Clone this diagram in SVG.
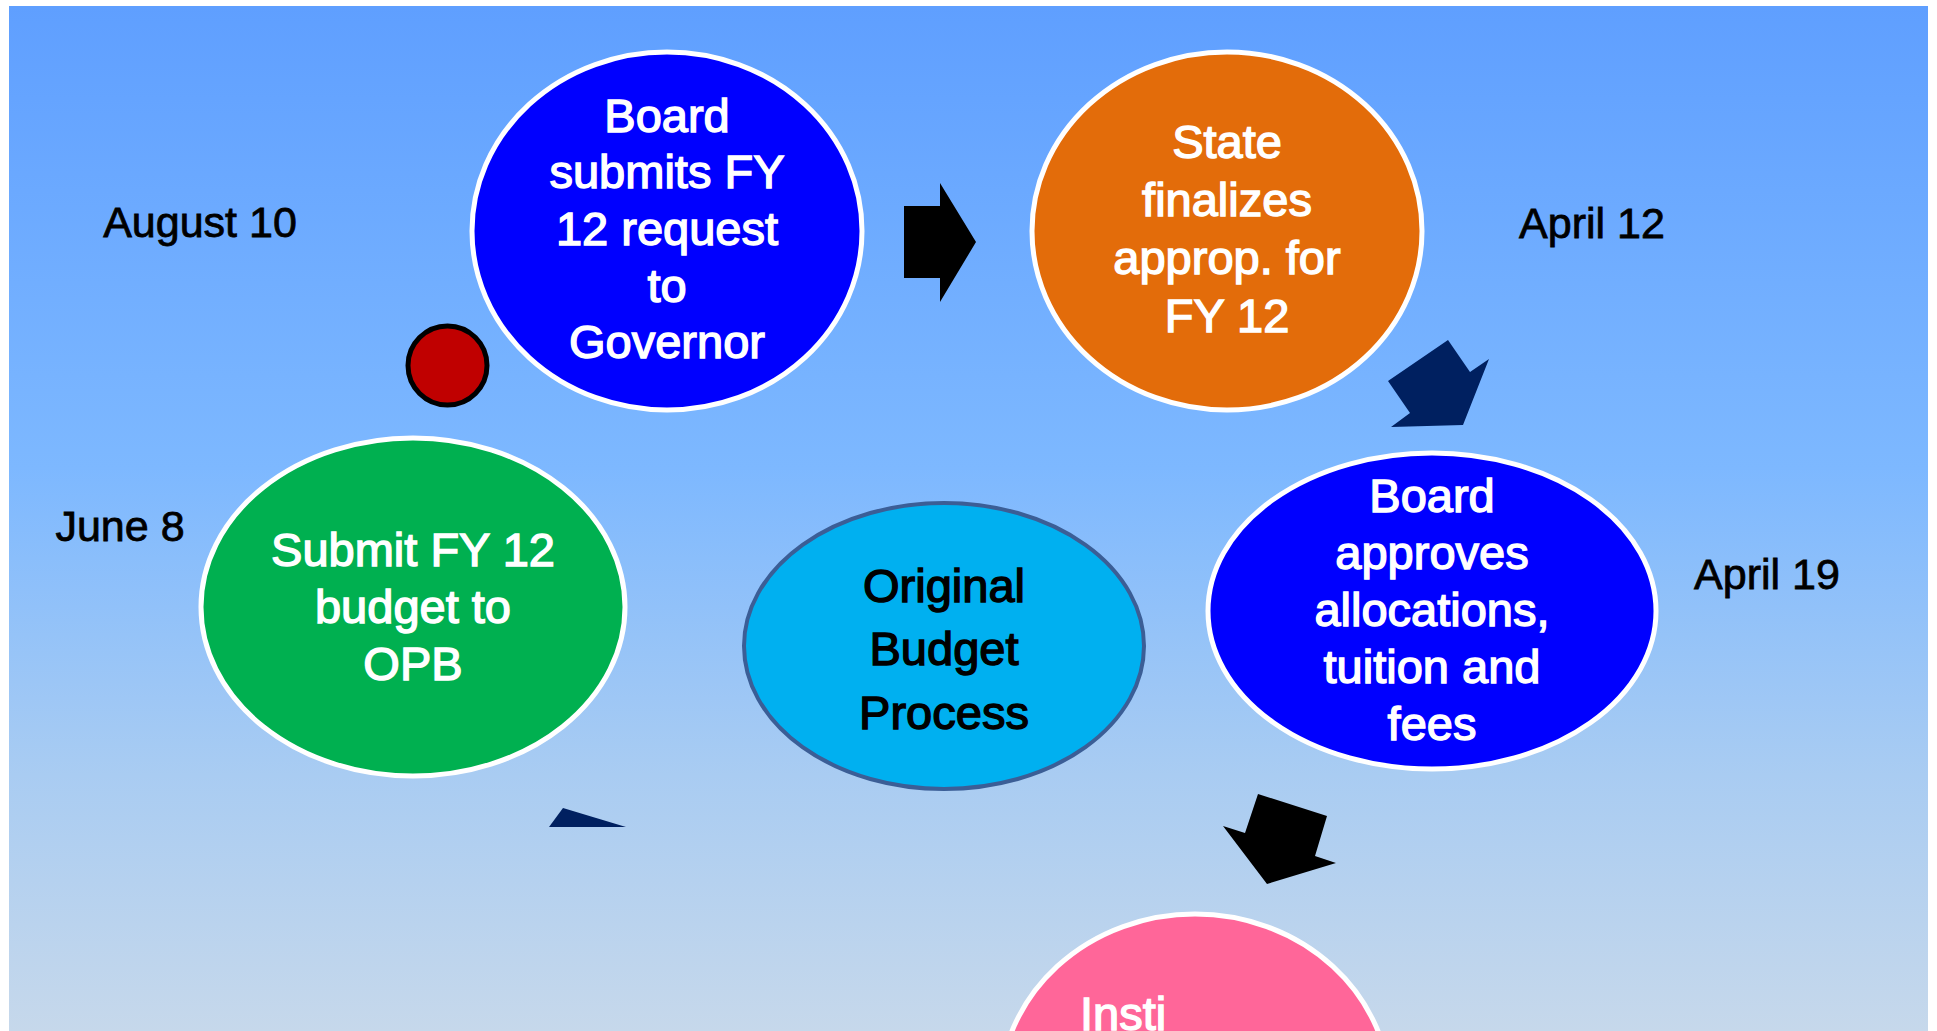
<svg xmlns="http://www.w3.org/2000/svg" width="1937" height="1031" viewBox="0 0 1937 1031">
<defs>
<linearGradient id="bg" x1="0" y1="0" x2="0" y2="1">
<stop offset="0" stop-color="#5F9FFF"/>
<stop offset="0.45" stop-color="#7DB8FF"/>
<stop offset="0.75" stop-color="#A9CCF2"/>
<stop offset="1" stop-color="#C6D8EB"/>
</linearGradient>
<style>
.node { stroke: #FFFFFF; stroke-width: 5; }
.nt { font-family: "Liberation Sans", Arial, sans-serif; font-size: 47px; fill: #FFFFFF; stroke: #FFFFFF; stroke-width: 1.4; text-anchor: middle; }
.dt { font-family: "Liberation Sans", Arial, sans-serif; font-size: 43px; fill: #000000; stroke: #000000; stroke-width: 0.8; text-anchor: middle; }
</style>
</defs>
<rect x="0" y="0" width="1937" height="1031" fill="#FFFFFF"/>
<rect x="9" y="6" width="1919" height="1025" fill="url(#bg)"/>

<g id="connectors">
<polygon points="904,206 940,206 940,183 976,242 940,302 940,278 904,278" fill="#000000"/>
<polygon points="1448,340 1470,372 1489,359 1463,425 1391,427 1410,413 1388,381" fill="#002060"/>
<polygon points="1258,794 1327,816 1315,856 1336,863 1267,884 1223,826 1245,833" fill="#000000"/>
<polygon points="563,808 626,827 549,827" fill="#002060"/>
</g>

<g id="dot">
<circle cx="447.5" cy="365.5" r="39.5" fill="#C00000" stroke="#000000" stroke-width="5"/>
</g>

<g id="node-submit">
<ellipse class="node" cx="667" cy="231" rx="195" ry="179" fill="#0000FF"/>
<text class="nt" x="667" y="131.7">Board</text>
<text class="nt" x="667" y="188.3">submits FY</text>
<text class="nt" x="667" y="244.9">12 request</text>
<text class="nt" x="667" y="301.5">to</text>
<text class="nt" x="667" y="358.1">Governor</text>
</g>

<g id="node-state">
<ellipse class="node" cx="1227" cy="231" rx="195" ry="179" fill="#E36C0A"/>
<text class="nt" x="1227" y="158">State</text>
<text class="nt" x="1227" y="216">finalizes</text>
<text class="nt" x="1227" y="274">approp. for</text>
<text class="nt" x="1227" y="332">FY 12</text>
</g>

<g id="node-approves">
<ellipse class="node" cx="1432" cy="611" rx="224" ry="158" fill="#0000FF"/>
<text class="nt" x="1432" y="511.7">Board</text>
<text class="nt" x="1432" y="568.5">approves</text>
<text class="nt" x="1432" y="625.7">allocations,</text>
<text class="nt" x="1432" y="683">tuition and</text>
<text class="nt" x="1432" y="740">fees</text>
</g>

<g id="node-opb">
<ellipse class="node" cx="413" cy="607" rx="212" ry="169" fill="#00B050"/>
<text class="nt" x="413" y="566">Submit FY 12</text>
<text class="nt" x="413" y="623">budget to</text>
<text class="nt" x="413" y="680">OPB</text>
</g>

<g id="node-center">
<ellipse cx="944" cy="646" rx="200" ry="143" fill="#00B0F0" stroke="#3B5E96" stroke-width="4"/>
<text class="nt" x="944" y="602" style="fill:#000000;stroke:#000000">Original</text>
<text class="nt" x="944" y="665" style="fill:#000000;stroke:#000000">Budget</text>
<text class="nt" x="944" y="729" style="fill:#000000;stroke:#000000">Process</text>
</g>

<g id="node-insti">
<ellipse class="node" cx="1195" cy="1093" rx="195" ry="179" fill="#FF6699"/>
<text class="nt" x="1080" y="1030" style="text-anchor:start">Insti</text>
</g>

<g id="labels">
<text class="dt" x="200" y="237">August 10</text>
<text class="dt" x="1592" y="238">April 12</text>
<text class="dt" x="1767" y="589">April 19</text>
<text class="dt" x="120" y="541">June 8</text>
</g>
</svg>
